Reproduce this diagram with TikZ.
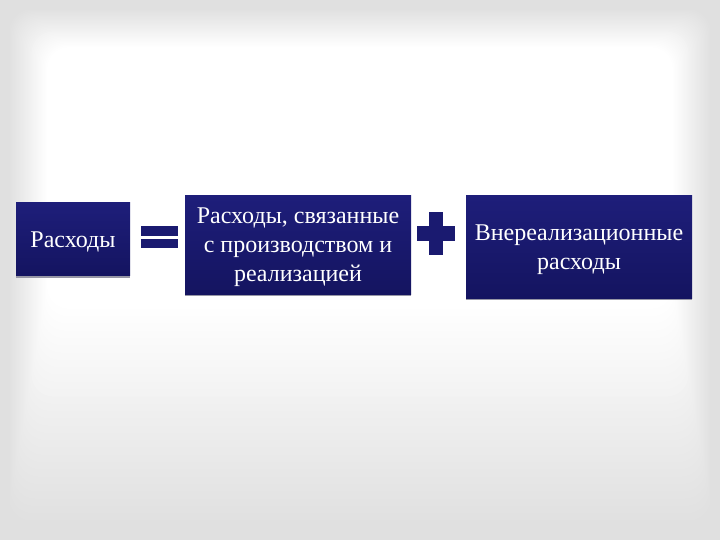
\documentclass[tikz,border=0pt]{standalone}
\usepackage{fontspec}
\setmainfont{Liberation Serif}
\usetikzlibrary{calc}
\definecolor{navy}{RGB}{26,26,112}
\definecolor{navytop}{RGB}{30,30,122}
\definecolor{navybot}{RGB}{20,20,96}
\definecolor{edgegray}{RGB}{224,224,224}
\definecolor{shadowgray}{RGB}{150,150,165}
\tikzset{
  box/.style={rectangle, inner sep=0pt, top color=navytop, bottom color=navybot},
  lbl/.style={inner sep=0pt, text=white, align=center, font=\fontsize{24}{29}\selectfont},
  sym/.style={fill=navy, draw=none},
}
\begin{document}
\begin{tikzpicture}[x=1pt,y=-1pt]
\useasboundingbox (0,0) rectangle (720,540);
% background vignette
\fill[edgegray] (0,0) rectangle (720,540);
\foreach \i in {0,...,30}{
  \pgfmathsetmacro{\w}{100*\i/30}
  \fill[white!\w!edgegray, rounded corners=22pt]
    (8+1.3*\i,8+1.3*\i) rectangle (712-1.3*\i,528-7.3*\i);
}
% boxes with bottom shadow line
\fill[shadowgray] (16,275) rectangle (130,278);
\fill[shadowgray] (185,293) rectangle (411,296);
\fill[shadowgray] (466,297) rectangle (692,300);
\node[box, minimum width=114pt, minimum height=73pt] (r1) at (73,239) {};
\node[box, minimum width=226pt, minimum height=98pt] (r2) at (298,245) {};
\node[box, minimum width=226pt, minimum height=103pt] (r3) at (579,247) {};
\node[lbl] (t1) at ($(r1)+(0,3)$) {Расходы};
\node[lbl] (t2) at ($(r2)+(0,2)$) {Расходы, связанные\\с производством и\\реализацией};
\node[lbl] (t3) at ($(r3)+(0,3)$) {Внереализационные\\расходы};
% equals sign
\coordinate (eq) at (159.5,237);
\fill[sym] ($(eq)+(-18.5,-10.5)$) rectangle ($(eq)+(18.5,-1.5)$);
\fill[sym] ($(eq)+(-18.5,1.5)$) rectangle ($(eq)+(18.5,10.5)$);
% plus sign
\coordinate (plus) at (436,233.5);
\fill[sym] ($(plus)+(-7,-21.5)$) rectangle ($(plus)+(7,21.5)$);
\fill[sym] ($(plus)+(-19,-7)$) rectangle ($(plus)+(19,7)$);
\end{tikzpicture}
\end{document}
